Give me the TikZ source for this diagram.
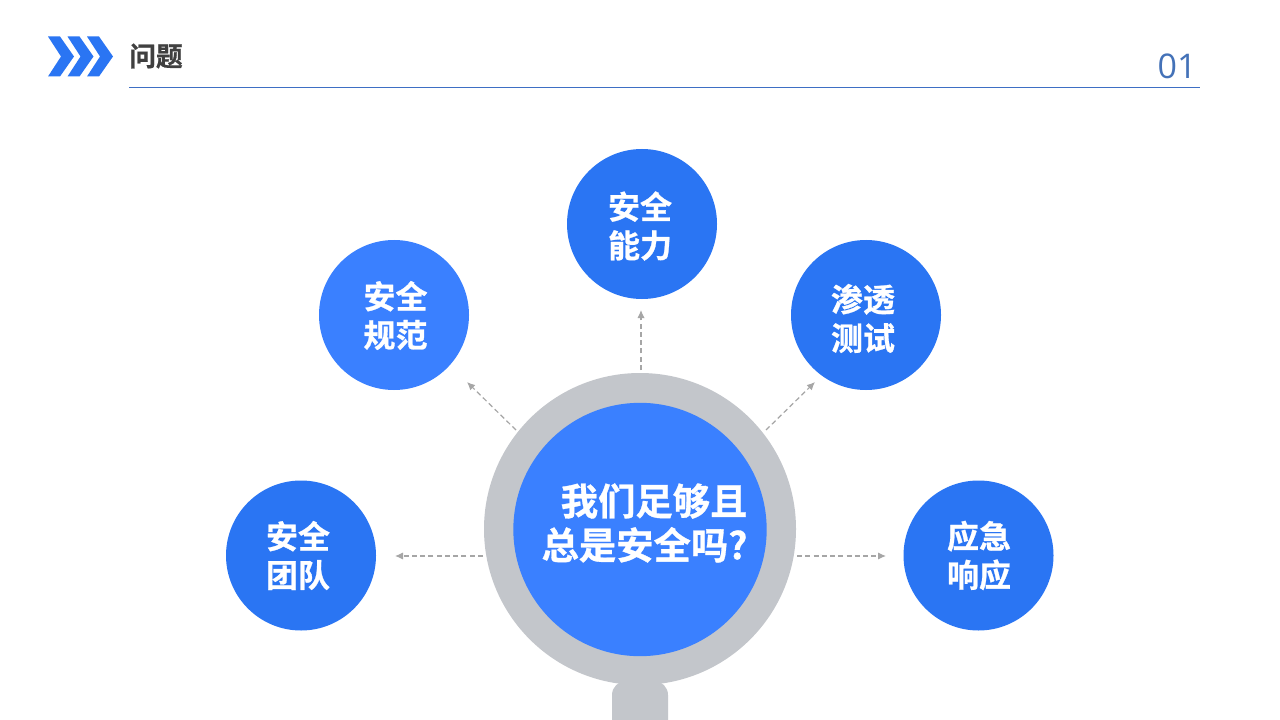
\documentclass[tikz,border=0pt]{standalone}
\usepackage{fontspec}
\setmainfont{Noto Sans CJK SC}[BoldFont={* Bold},BoldFeatures={FakeBold=0.8}]
\newfontfamily\numfont{Open Sans}
\usetikzlibrary{arrows.meta}
\definecolor{bluedark}{HTML}{2A75F3}
\definecolor{bluelight}{HTML}{3A80FF}
\definecolor{ringgrey}{HTML}{C3C6CB}
\definecolor{conngrey}{HTML}{A6A6A6}
\definecolor{rulecol}{HTML}{3E6FC4}
\definecolor{numcol}{HTML}{4472B8}
\definecolor{titlecol}{HTML}{404040}
\tikzset{
  x=0.75pt,y=-0.75pt,
  bubble/.style={circle,draw=none,fill=#1,minimum size=112.5pt,inner sep=0pt},
  bubbletext/.style={inner sep=0pt,text=white,align=center,font=\fontsize{24}{29}\selectfont\bfseries},
  conn/.style={draw=conngrey,line width=0.9pt,dash pattern=on 3.8pt off 2.4pt,
    -{Latex[length=6pt,width=5.5pt]}},
}
\begin{document}
\begin{tikzpicture}
\useasboundingbox (0,0) rectangle (1280,720);
\fill[white] (0,0) rectangle (1280,720);
% header
\foreach \d in {0,19.5,39}{
  \fill[bluedark] (48+\d,36.5) -- (60+\d,36.5) -- (74+\d,56.5) -- (60+\d,76.5) -- (48+\d,76.5) -- (61+\d,56.5) -- cycle;
}
\node[anchor=center,inner sep=0pt,text=titlecol,font=\fontsize{20}{24}\selectfont\bfseries] (title) at (156,56) {问题};
\draw[rulecol,line width=0.9pt] (129,87.5) coordinate (ruleL) -- (1200,87.5) coordinate (ruleR);
\node[inner sep=0pt,text=numcol,font=\fontsize{25.5}{30}\numfont] (num) at (1177,66) {01};
% magnifier
\fill[ringgrey,rounded corners=10.5pt] (612,681) rectangle (668,760);
\node[circle,fill=ringgrey,minimum size=234pt,inner sep=0pt] (ring) at (640,529) {};
\node[circle,fill=bluelight,minimum size=190pt,inner sep=0pt] (core) at (640,529.5) {};
\node[inner sep=0pt,text=white,align=right,font=\fontsize{28}{33}\selectfont\bfseries] (q) at (644.5,523) {我们足够且\\总是安全吗?};
% bubbles
\node[bubble=bluedark] (top) at (642,224) {};
\node[bubble=bluelight] (tl) at (394,315) {};
\node[bubble=bluedark] (tr) at (866,315) {};
\node[bubble=bluedark] (bl) at (301,555.5) {};
\node[bubble=bluedark] (br) at (978.5,555.5) {};
\node[bubbletext] (ttop) at (640,226) {安全\\能力};
\node[bubbletext] (ttl) at (395.5,315.5) {安全\\规范};
\node[bubbletext] (ttr) at (863,318.5) {渗透\\测试};
\node[bubbletext] (tbl) at (298,555.5) {安全\\团队};
\node[bubbletext] (tbr) at (979,555.5) {应急\\响应};
% connectors
\coordinate (a1) at (641,370); \coordinate (e1) at (641,310);
\coordinate (a2) at (516,430); \coordinate (e2) at (467,382);
\coordinate (a3) at (766,430); \coordinate (e3) at (815,382);
\coordinate (a4) at (483,556); \coordinate (e4) at (395,556);
\coordinate (a5) at (797,556); \coordinate (e5) at (886,556);
\foreach \n in {1,...,5}{ \draw[conn] (a\n) -- (e\n); }
\end{tikzpicture}
\end{document}
